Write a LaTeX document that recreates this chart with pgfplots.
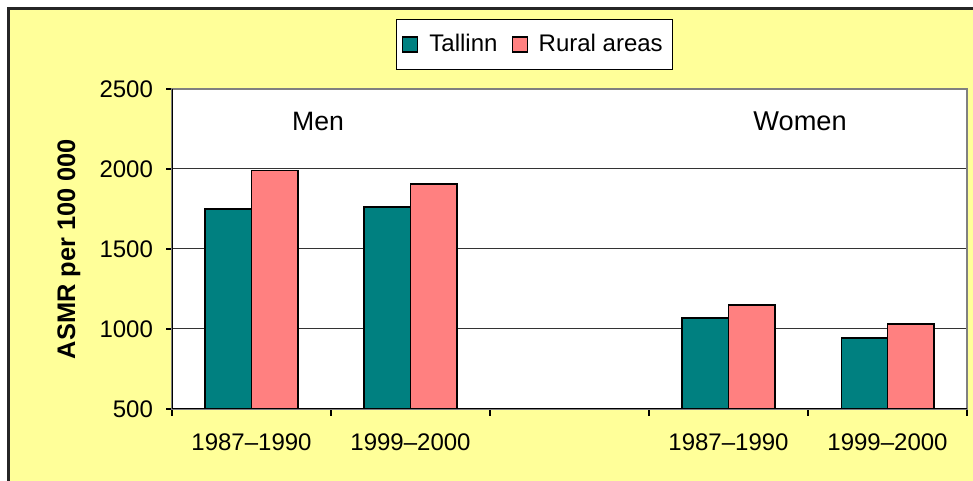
\documentclass[border=0pt]{standalone}
\usepackage{pgfplots}
\pgfplotsset{compat=1.18}
\usepackage{fontspec}
\setmainfont{Liberation Sans}
\definecolor{bgyellow}{HTML}{FFFF99}
\definecolor{tealc}{HTML}{008080}
\definecolor{salmonc}{HTML}{FF8080}
\begin{document}
\begin{tikzpicture}
\useasboundingbox (0,0) rectangle (486.5pt,240.5pt);
\fill[white] (0,0) rectangle (486.5pt,240.5pt);
\filldraw[fill=bgyellow, draw=black!85, line width=1.2pt] (4.3pt,-10pt) rectangle (500pt,236.2pt);
\begin{axis}[
  at={(86pt,36pt)}, anchor=south west, scale only axis,
  width=397.5pt, height=160pt,
  xmin=-0.5, xmax=4.5, ymin=500, ymax=2500,
  axis background/.style={fill=white},
  axis line style={draw=gray, line width=0.8pt},
  ytick={500,1000,...,2500},
  xtick={0,1,3,4},
  xticklabels={1987--1990,1999--2000,1987--1990,1999--2000},
  minor xtick={-0.5,0.5,...,4.5},
  tick pos=left,
  tick align=outside,
  major tick length=3pt, minor tick length=3.5pt,
  x tick style={draw=none},
  minor x tick style={draw=black, line width=0.6pt},
  y tick style={draw=black, line width=0.6pt},
  ymajorgrids, major grid style={draw=black!80, line width=0.5pt},
  /pgf/number format/assume math mode=true,
  /pgf/number format/set thousands separator={},
  ticklabel style={font=\fontsize{12}{14}\selectfont},
  yticklabel style={xshift=-3pt},
  xticklabel style={yshift=-6pt},
  ylabel={\bfseries ASMR per 100 000},
  ylabel style={at={(axis description cs:-0.1296,0.5)}, anchor=center, font=\fontsize{12.7}{15}\selectfont},
  legend columns=2,
  legend style={at={(0.456,1.139)}, anchor=center, draw=black, line width=0.6pt, fill=white,
    font=\fontsize{12}{14}\selectfont, inner xsep=3pt, inner ysep=5.5pt,
    /tikz/every odd column/.append style={column sep=3.5pt},
    /tikz/every even column/.append style={column sep=5pt}},
  legend image code/.code={\draw[#1, draw=black, line width=0.6pt] (0pt,-3.75pt) rectangle (7.5pt,3.75pt);},
]
\addplot[ybar, bar width=0.29, bar shift=-0.145, fill=tealc, draw=black, line width=0.9pt]
  coordinates {(0,1750) (1,1760) (3,1067) (4,946)};
\addlegendentry{Tallinn}
\addplot[ybar, bar width=0.29, bar shift=0.145, fill=salmonc, draw=black, line width=0.9pt]
  coordinates {(0,1990) (1,1907) (3,1152) (4,1033)};
\addlegendentry{Rural areas}
\node[font=\fontsize{13.3}{15}\selectfont] at (axis cs:0.418,2300) {Men};
\node[font=\fontsize{13.6}{15}\selectfont] at (axis cs:3.45,2300) {Women};
\draw[black, line width=0.8pt] (axis description cs:0,1) -- (axis description cs:0,0) -- (axis description cs:1,0);
\end{axis}
\end{tikzpicture}
\end{document}
